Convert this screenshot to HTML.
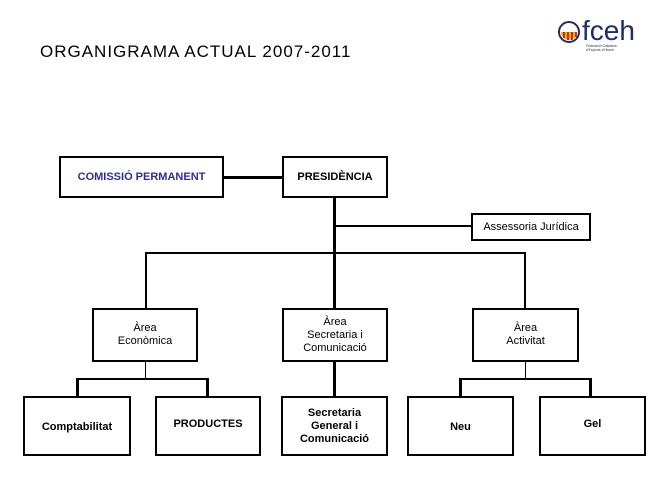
<!DOCTYPE html>
<html><head><meta charset="utf-8"><style>
body{margin:0;width:669px;height:500px;background:#fff;overflow:hidden;position:relative;font-family:"Liberation Sans",sans-serif}
.b{position:absolute;border:2px solid #000;box-sizing:border-box;display:flex;align-items:center;justify-content:center;text-align:center;font-size:11px;font-weight:bold;line-height:13px;background:#fff}
.l{position:absolute;background:#000}
</style></head><body>
<div style="position:absolute;left:40px;top:42px;font-size:17px;letter-spacing:1px">ORGANIGRAMA ACTUAL 2007-2011</div>
<svg style="position:absolute;left:556px;top:14px" width="100" height="40">
<circle cx="13" cy="18" r="10" fill="#fff" stroke="#1d2d6b" stroke-width="2"/>
<path d="M5 18 h16 a8 8 0 0 1 -16 0z" fill="#e8b000"/>
<path d="M8 18v6M12 18v8M16 18v8M20 18v5" stroke="#c00" stroke-width="1.5"/>
<text x="26" y="26" font-family="Liberation Sans,sans-serif" font-size="28" fill="#1d2d6b">fceh</text>
<text x="30" y="33" font-size="3.5" fill="#333" font-family="Liberation Sans,sans-serif">Federació Catalana</text>
<text x="30" y="37" font-size="3.5" fill="#333" font-family="Liberation Sans,sans-serif">d'Esports d'Hivern</text>
</svg>
<div class="l" style="left:223px;top:176px;width:60px;height:3px"></div>
<div class="l" style="left:333px;top:197px;width:3px;height:111px"></div>
<div class="l" style="left:334px;top:225px;width:138px;height:2px"></div>
<div class="l" style="left:145px;top:252px;width:381px;height:2px"></div>
<div class="l" style="left:145px;top:252px;width:2px;height:56px"></div>
<div class="l" style="left:524px;top:252px;width:2px;height:56px"></div>
<div class="l" style="left:333px;top:361px;width:3px;height:36px"></div>
<div class="l" style="left:145px;top:361px;width:1px;height:18px"></div>
<div class="l" style="left:76px;top:378px;width:133px;height:2px"></div>
<div class="l" style="left:76px;top:378px;width:3px;height:19px"></div>
<div class="l" style="left:206px;top:378px;width:3px;height:19px"></div>
<div class="l" style="left:525px;top:361px;width:1px;height:18px"></div>
<div class="l" style="left:459px;top:378px;width:133px;height:2px"></div>
<div class="l" style="left:459px;top:378px;width:3px;height:19px"></div>
<div class="l" style="left:589px;top:378px;width:3px;height:19px"></div>
<div class="b" style="left:59px;top:156px;width:165px;height:42px;color:#2b2f9a">COMISSIÓ PERMANENT</div>
<div class="b" style="left:282px;top:156px;width:106px;height:42px">PRESIDÈNCIA</div>
<div class="b" style="left:471px;top:213px;width:120px;height:28px;font-weight:normal;font-size:11px">Assessoria Jurídica</div>
<div class="b" style="left:92px;top:308px;width:106px;height:54px;font-weight:normal">Àrea<br>Econòmica</div>
<div class="b" style="left:282px;top:308px;width:106px;height:54px;font-weight:normal">Àrea<br>Secretaria i<br>Comunicació</div>
<div class="b" style="left:472px;top:308px;width:107px;height:54px;font-weight:normal">Àrea<br>Activitat</div>
<div class="b" style="left:23px;top:396px;width:108px;height:60px;padding-top:2px">Comptabilitat</div>
<div class="b" style="left:155px;top:396px;width:106px;height:60px;align-items:flex-start;padding-top:20px">PRODUCTES</div>
<div class="b" style="left:281px;top:396px;width:107px;height:60px">Secretaria<br>General i<br>Comunicació</div>
<div class="b" style="left:407px;top:396px;width:107px;height:60px;padding-top:2px">Neu</div>
<div class="b" style="left:539px;top:396px;width:107px;height:60px;align-items:flex-start;padding-top:20px">Gel</div>
</body></html>
